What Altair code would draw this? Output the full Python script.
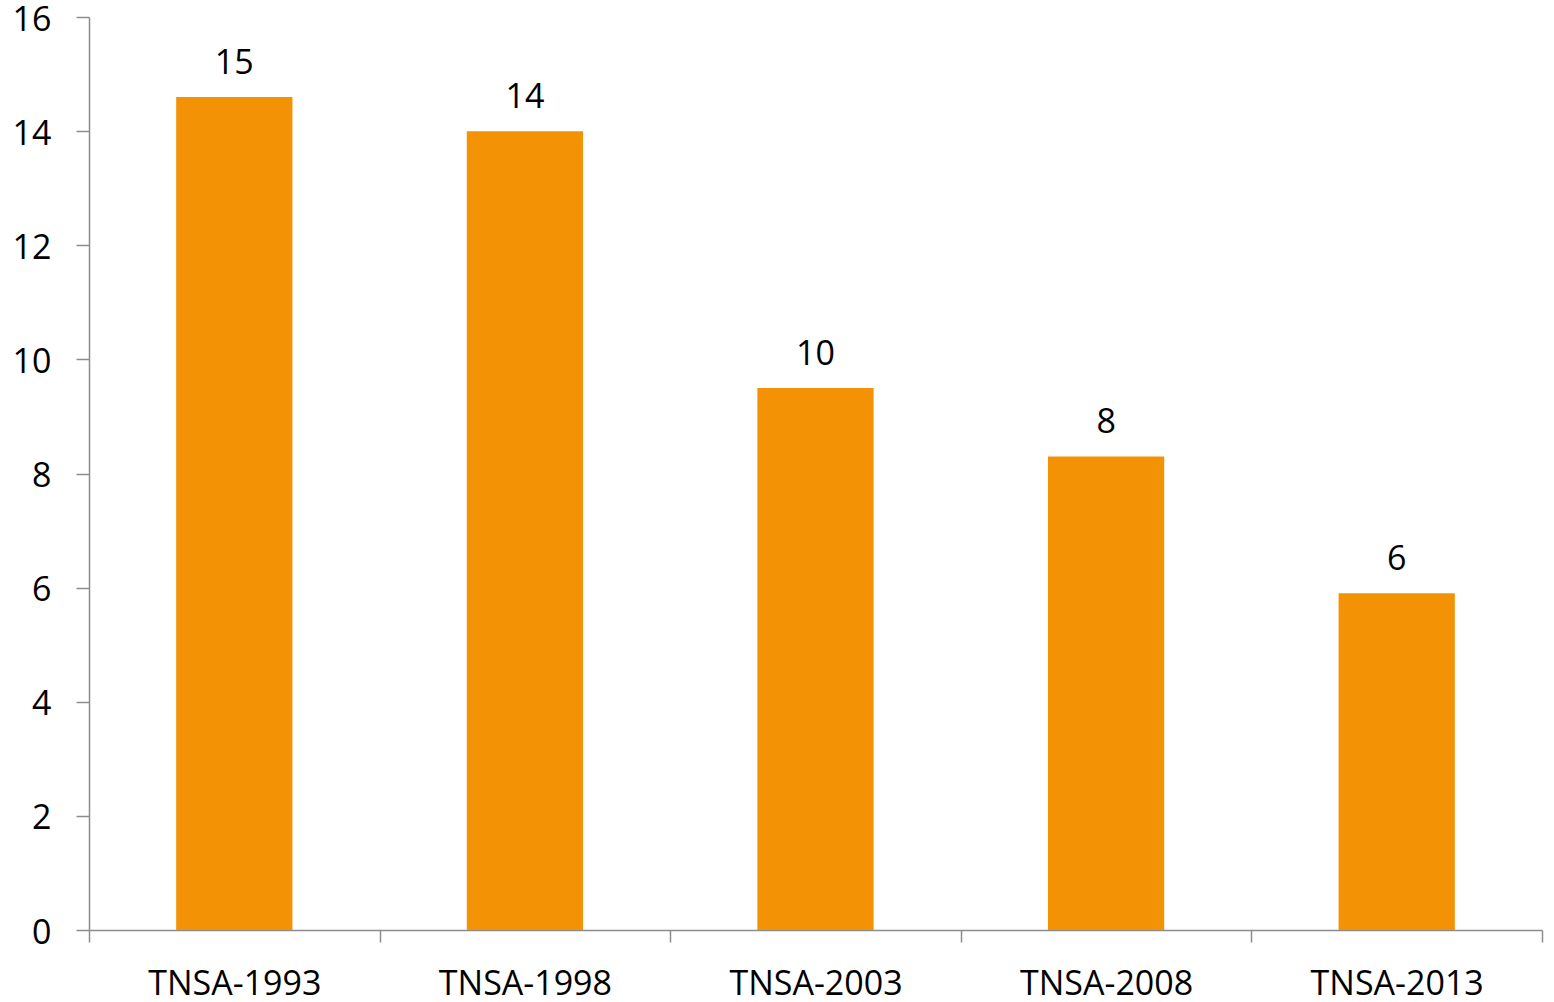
import altair as alt
import pandas as pd

surveys = ["TNSA-1993", "TNSA-1998", "TNSA-2003", "TNSA-2008", "TNSA-2013"]
values = [14.6, 14.0, 9.5, 8.3, 5.9]
labels = ["15", "14", "10", "8", "6"]

df = pd.DataFrame({"survey": surveys, "value": values, "label": labels})

FONT = "Open Sans"
AXIS_COLOR = "#8c8c8c"
BAR_COLOR = "#F39204"

x_enc = alt.X(
    "survey:N",
    sort=surveys,
    title=None,
    scale=alt.Scale(paddingInner=0, paddingOuter=0),
    axis=alt.Axis(
        tickBand="extent",
        labelAngle=0,
        labelFont=FONT,
        labelFontSize=34,
        labelColor="#000000",
        labelPadding=25,
        tickSize=12,
        tickColor=AXIS_COLOR,
        domainColor=AXIS_COLOR,
        tickWidth=1.5,
        domainWidth=1.5,
    ),
)

y_enc = alt.Y(
    "value:Q",
    title=None,
    scale=alt.Scale(domain=[0, 16], nice=False),
    axis=alt.Axis(
        values=list(range(0, 17, 2)),
        format="d",
        grid=False,
        labelFont=FONT,
        labelFontSize=34,
        labelColor="#000000",
        labelPadding=25,
        labelBaseline="middle",
        labelOffset=3,
        tickSize=13,
        tickColor=AXIS_COLOR,
        domainColor=AXIS_COLOR,
        tickWidth=1.5,
        domainWidth=1.5,
    ),
)

bars = alt.Chart(df).mark_bar(
    color=BAR_COLOR, width=alt.RelativeBandSize(0.4)
).encode(x=x_enc, y=y_enc)

text = alt.Chart(df).mark_text(
    font=FONT, fontSize=34, color="#000000", baseline="alphabetic", dy=-23
).encode(x=alt.X("survey:N", sort=surveys), y="value:Q", text="label:N")

chart = (
    alt.layer(bars, text)
    .properties(
        width=1453,
        height=913,
        padding={"left": 89, "top": 17, "right": 12, "bottom": 72},
        autosize="none",
        background="white",
    )
    .configure_view(stroke=None)
)

chart.save("out.html", embed_options={"renderer": "svg", "actions": False})
